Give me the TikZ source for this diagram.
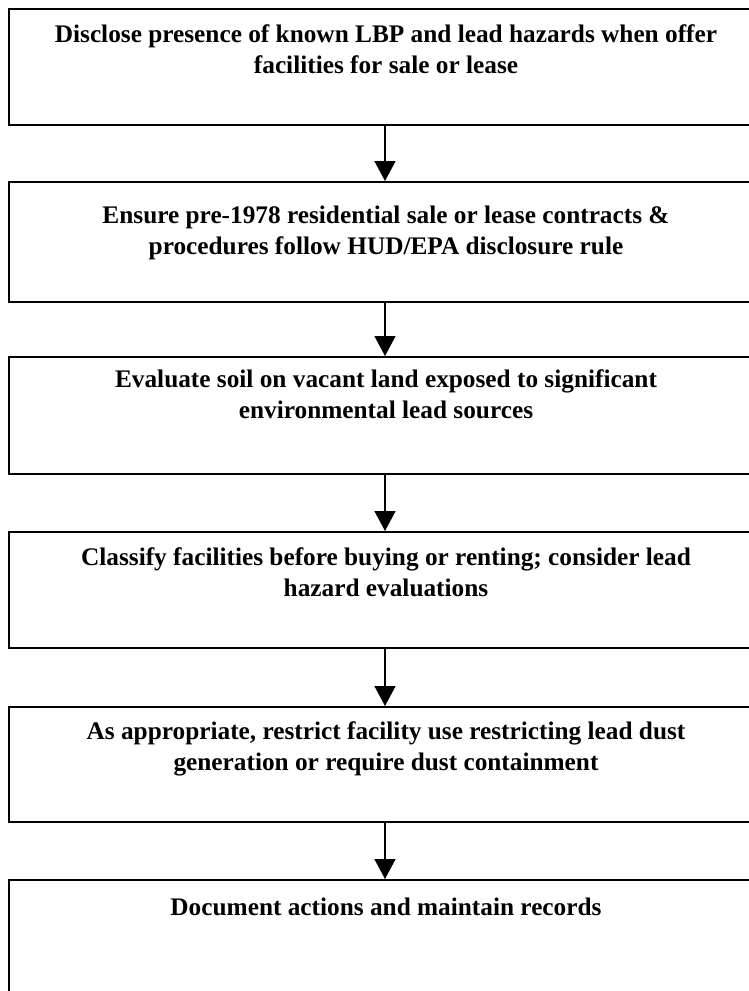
\documentclass[tikz,border=0pt]{standalone}
\usepackage{fontspec}
\setmainfont{Liberation Serif}
\usetikzlibrary{arrows.meta}
\begin{document}
\begin{tikzpicture}[x=1pt,y=-1pt,
  stepbox/.style={draw=black, line width=2pt, rectangle, inner sep=0pt,
                  minimum width=752pt, anchor=north west},
  steptext/.style={anchor=north, inner sep=0pt, align=center,
                   font=\bfseries\fontsize{25.3}{31.5}\selectfont},
  flow/.style={line width=1.5pt, -{Triangle[width=21pt,length=20pt]}}]
\useasboundingbox (0,0) rectangle (749,991);
\clip (0,0) rectangle (749,991);
\fill[white] (0,0) rectangle (749,991);

% the six process steps (boxes run off the right edge of the page)
\node[stepbox, minimum height=116pt] (b1) at (8,8) {};
\node[stepbox, minimum height=120pt] (b2) at (8,181) {};
\node[stepbox, minimum height=117pt] (b3) at (8,356) {};
\node[stepbox, minimum height=116pt] (b4) at (8,531) {};
\node[stepbox, minimum height=115pt] (b5) at (8,706) {};
\node[stepbox, minimum height=140pt] (b6) at (8,879) {};

% step texts, first baseline set 20pt below each node top
\node[steptext] (t1) at (386,22)  {\rule{0pt}{20pt}Disclose presence of known LBP and lead hazards when offer\\facilities for sale or lease};
\node[steptext] (t2) at (386,203) {\rule{0pt}{20pt}Ensure pre-1978 residential sale or lease contracts \&\\procedures follow HUD/EPA disclosure rule};
\node[steptext] (t3) at (386,367) {\rule{0pt}{20pt}Evaluate soil on vacant land exposed to significant\\environmental lead sources};
\node[steptext] (t4) at (386,545) {\rule{0pt}{20pt}Classify facilities before buying or renting; consider lead\\hazard evaluations};
\node[steptext] (t5) at (386,719) {\rule{0pt}{20pt}As appropriate, restrict facility use restricting lead dust\\generation or require dust containment};
\node[steptext] (t6) at (386,895) {\rule{0pt}{20pt}Document actions and maintain records};

% connectors
\draw[flow] (b1.south) -- (b2.north);
\draw[flow] (b2.south) -- (b3.north);
\draw[flow] (b3.south) -- (b4.north);
\draw[flow] (b4.south) -- (b5.north);
\draw[flow] (b5.south) -- (b6.north);
\end{tikzpicture}
\end{document}
